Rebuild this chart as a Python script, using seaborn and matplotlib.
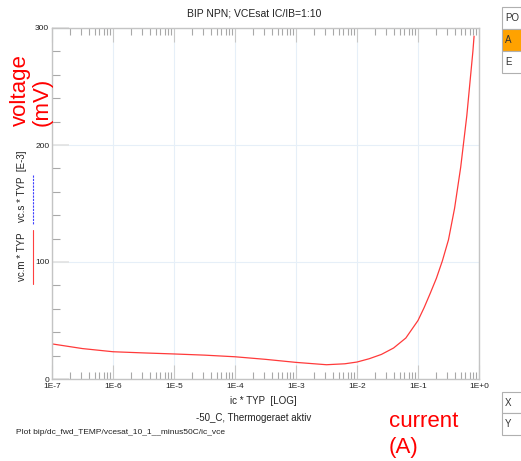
import numpy as np
import pandas as pd
import matplotlib
matplotlib.use('Agg')
import matplotlib.pyplot as plt
from matplotlib.lines import Line2D
from matplotlib.patches import Rectangle
from matplotlib.ticker import MultipleLocator, FixedLocator, FixedFormatter, LogLocator, NullFormatter
import seaborn as sns

# collector current (A) and VCEsat (mV)
current = [1.0e-7, 3.16e-7, 1.0e-6, 3.16e-6, 1.0e-5, 3.16e-5, 1.0e-4, 3.16e-4,
           1.0e-3, 3.16e-3, 6.31e-3, 1.0e-2, 1.58e-2, 2.51e-2, 3.98e-2, 6.31e-2,
           0.1, 0.126, 0.158, 0.2, 0.251, 0.316, 0.398, 0.501, 0.631, 0.794, 0.83]
vce = [30.0, 26.0, 23.3, 22.3, 21.4, 20.4, 19.0, 16.8,
       14.2, 12.2, 13.0, 14.5, 17.3, 21.0, 26.5, 35.0,
       50.0, 61.0, 73.0, 86.0, 101.0, 119.0, 146.0, 181.0, 225.0, 280.0, 293.0]

x_ticks = [1e-7, 1e-6, 1e-5, 1e-4, 1e-3, 1e-2, 1e-1, 1e0]
x_labels = ['1E-7', '1E-6', '1E-5', '1E-4', '1E-3', '1E-2', '1E-1', '1E+0']
y_ticks = [0, 100, 200, 300]

df = pd.DataFrame({'ic': current, 'vc': vce})

sns.set_theme(style='white')
plt.rcParams['font.family'] = ['Liberation Sans', 'DejaVu Sans']

W, H = 521, 461
fig = plt.figure(figsize=(W / 100, H / 100), dpi=100)

def fx(px):
    return px / W

def fy(py):
    return 1 - py / H

ax = fig.add_axes([fx(52), fy(379), fx(479) - fx(52), fy(28) - fy(379)])

sns.lineplot(data=df, x='ic', y='vc', color='#ff3a3a', linewidth=0.9, ax=ax, sort=False)

ax.set_xscale('log')
ax.set_xlim(1e-7, 1e0)
ax.set_ylim(0, 300)
ax.set_xlabel('')
ax.set_ylabel('')

ax.xaxis.set_major_locator(FixedLocator(x_ticks))
ax.xaxis.set_major_formatter(FixedFormatter(x_labels))
ax.xaxis.set_minor_locator(LogLocator(base=10, subs=np.arange(2, 10), numticks=20))
ax.xaxis.set_minor_formatter(NullFormatter())
ax.yaxis.set_major_locator(FixedLocator(y_ticks))
ax.yaxis.set_minor_locator(MultipleLocator(20))

ax.grid(True, which='major', color='#e6eff8', linewidth=0.8)
for s in ax.spines.values():
    s.set_color('#c4c4c4')
    s.set_linewidth(1.0)

ax.tick_params(axis='x', which='major', direction='in', top=True, bottom=True,
               length=10, width=0.8, color='#c8c8c8', labelsize=6, pad=3, labelcolor='#222222')
ax.tick_params(axis='x', which='minor', direction='in', top=True, bottom=True,
               length=5, width=0.8, color='#a8a8a8')
ax.tick_params(axis='y', which='major', direction='in', left=True, right=False,
               length=12, width=1.2, color='#e2e2e2', labelsize=6, pad=2, labelcolor='#222222')
ax.tick_params(axis='y', which='minor', direction='in', left=True, right=False,
               length=5.8, width=0.8, color='#a8a8a8')

# texts
fig.text(fx(254), fy(13), 'BIP NPN; VCEsat IC/IB=1:10', ha='center', va='center',
         fontsize=7.5, color='#222222')
fig.text(fx(263), fy(401), 'ic * TYP  [LOG]', ha='center', va='center', fontsize=7, color='#222222')
fig.text(fx(254), fy(418), '-50_C, Thermogeraet aktiv', ha='center', va='center',
         fontsize=7, color='#222222')
fig.text(fx(16), fy(432), 'Plot bip/dc_fwd_TEMP/vcesat_10_1__minus50C/ic_vce', ha='left',
         va='center', fontsize=6, color='#222222')

fig.text(fx(22), fy(257), 'vc.m * TYP', rotation=90, ha='center', va='center',
         fontsize=7, color='#222222')
fig.text(fx(22), fy(186), 'vc.s * TYP  [E-3]', rotation=90, ha='center', va='center',
         fontsize=7, color='#222222')
fig.add_artist(Line2D([fx(33), fx(33)], [fy(230), fy(284)], color='#ff4040', lw=0.8))
fig.add_artist(Line2D([fx(33), fx(33)], [fy(175), fy(225)], color='#4040ff', lw=0.8,
                      linestyle=(0, (2, 1))))

fig.text(fx(47), fy(126), 'voltage\n(mV)', rotation=90, rotation_mode='anchor',
         ha='left', va='baseline', multialignment='left', fontsize=16, color='red',
         linespacing=1.07)
fig.text(fx(389), fy(453), 'current\n(A)', ha='left', va='baseline', fontsize=16,
         color='red', linespacing=1.32)

# side widgets
def box(y0, y1, label, face='white'):
    fig.add_artist(Rectangle((fx(502), fy(y1)), fx(530) - fx(502), fy(y0) - fy(y1),
                             facecolor=face, edgecolor='#b0b0b0', lw=0.8))
    fig.text(fx(505), fy((y0 + y1) / 2), label, ha='left', va='center', fontsize=7,
             color='#333333')

box(7, 29, 'PO')
box(29, 51, 'A', face='#ffa200')
box(51, 73, 'E')
box(392, 413, 'X')
box(413, 435, 'Y')

fig.savefig('out.png', dpi=100)
